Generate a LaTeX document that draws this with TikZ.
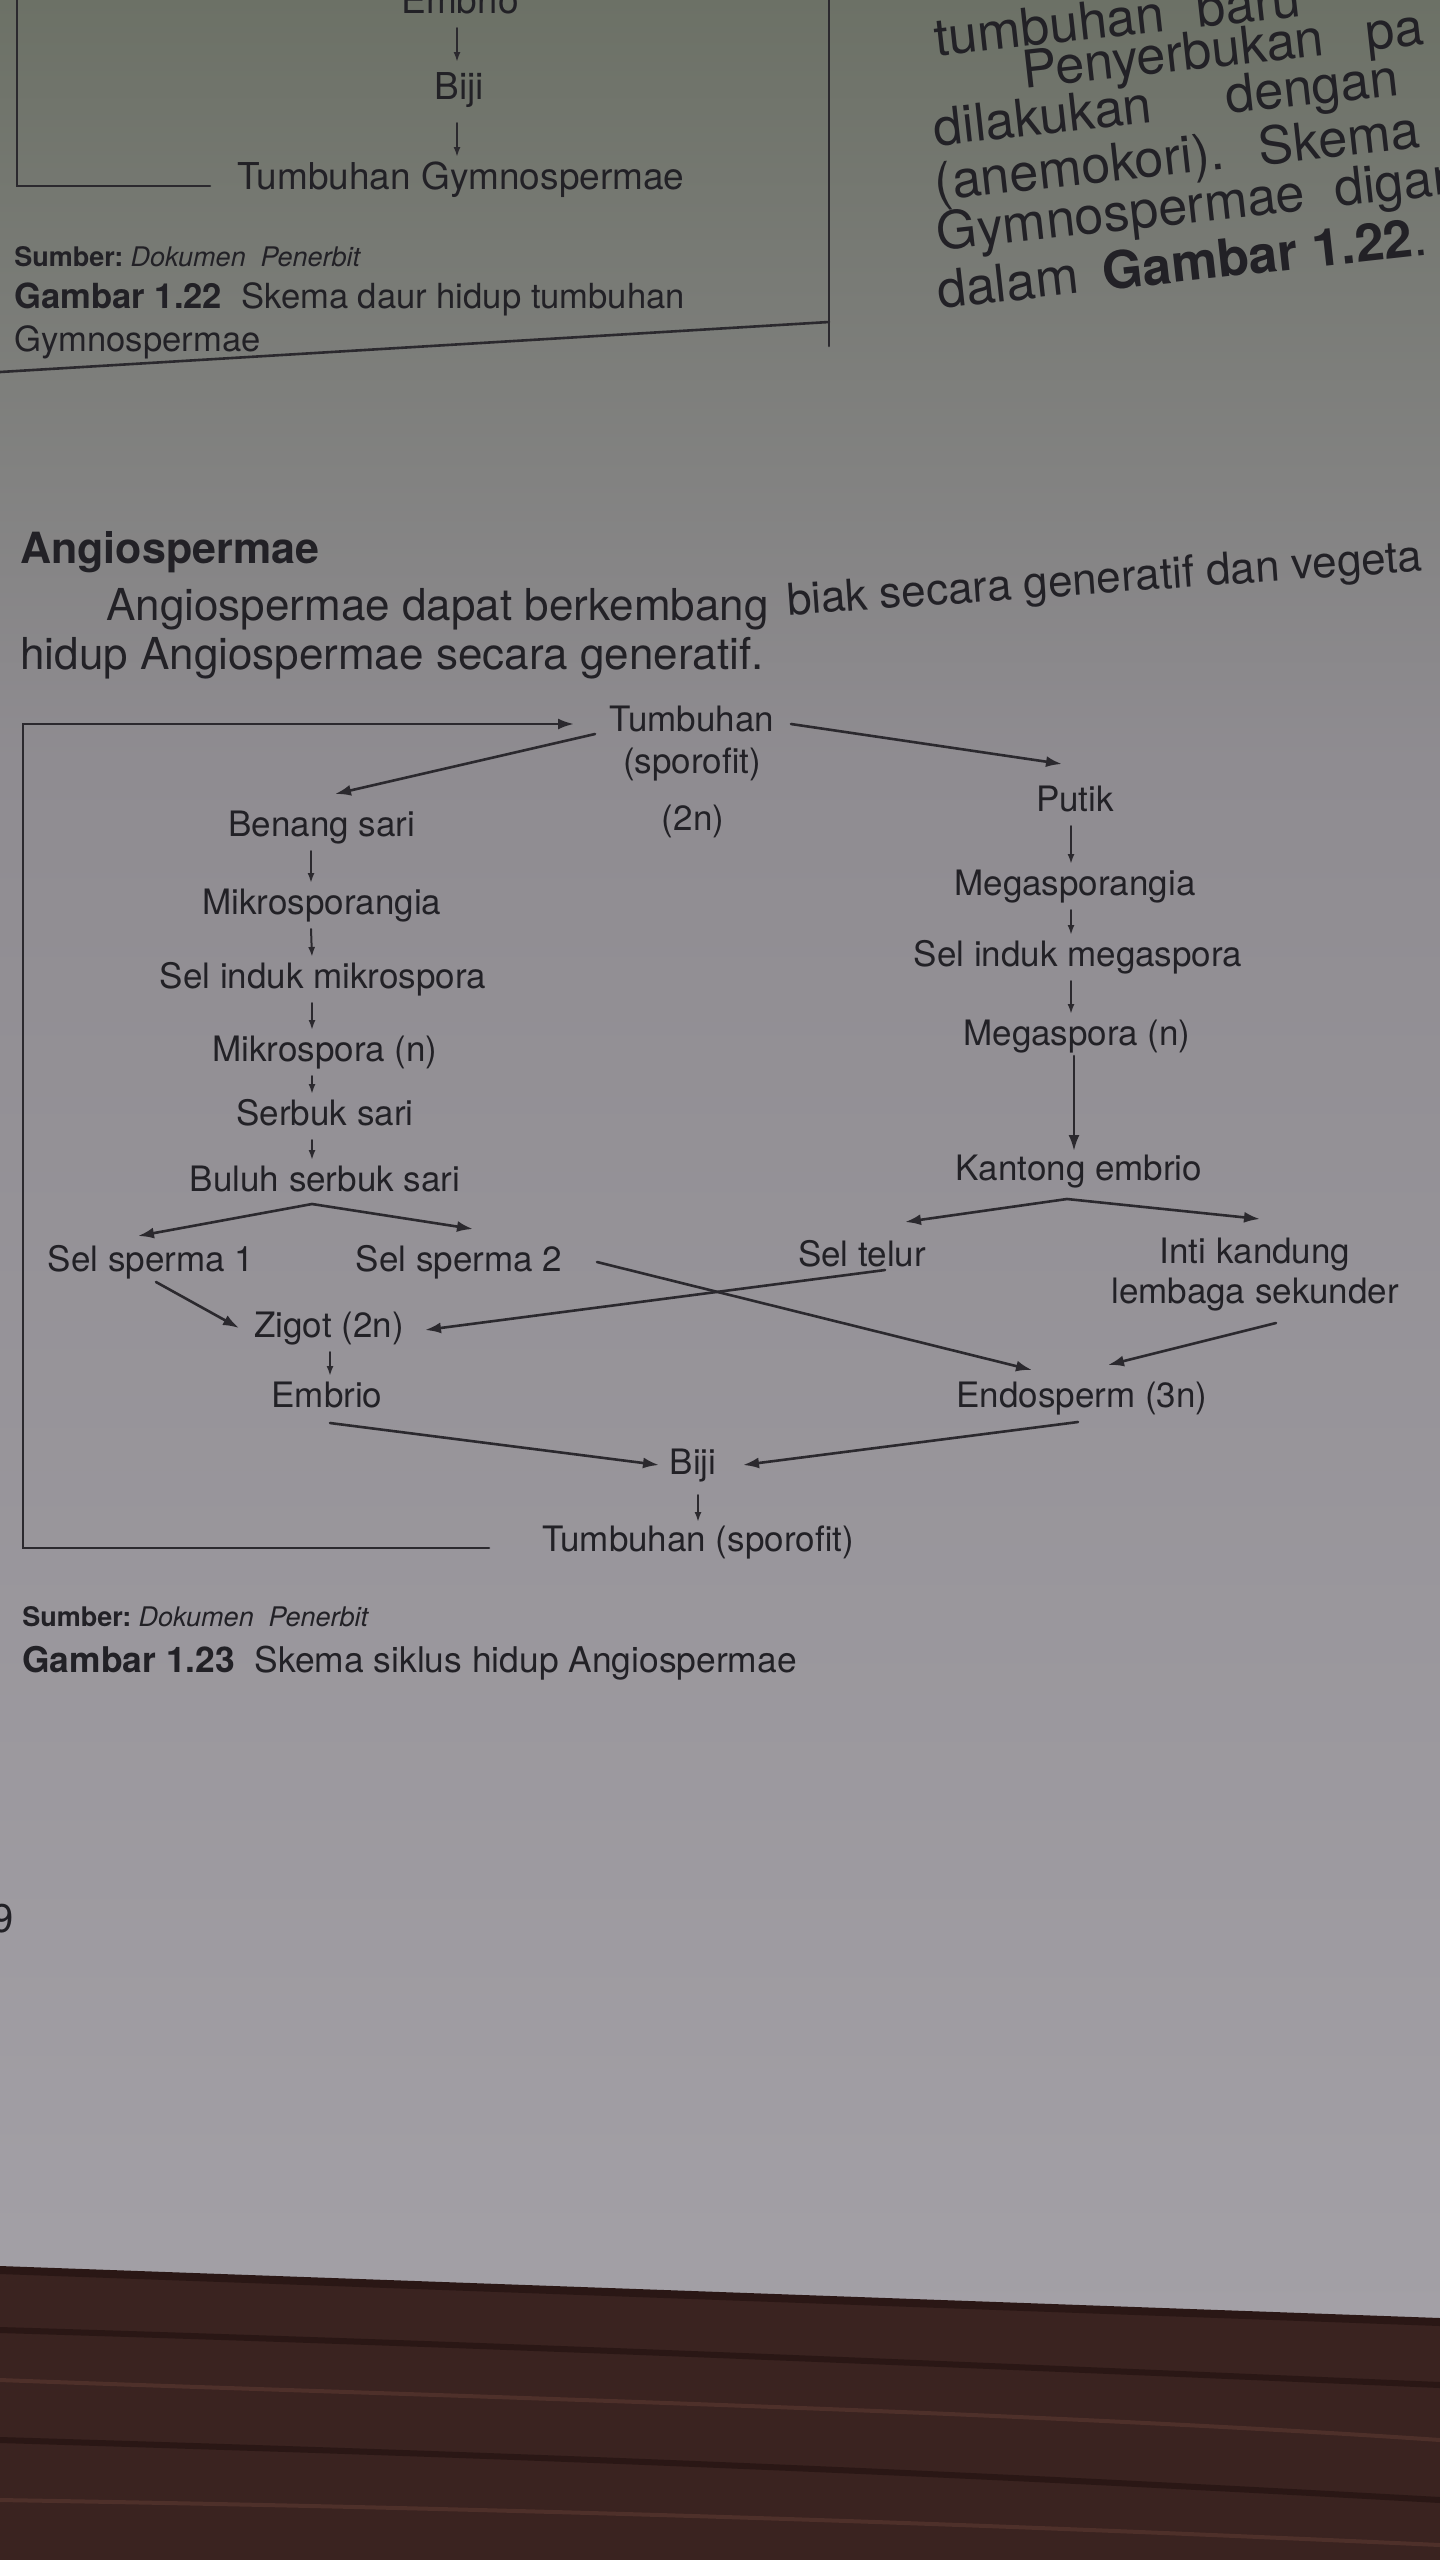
\documentclass[tikz,border=0pt]{standalone}
\usepackage{fontspec}
\setmainfont{TeX Gyre Heros}
\usetikzlibrary{arrows.meta,calc}
\definecolor{ink}{HTML}{222126}
\definecolor{lineink}{HTML}{2B292E}
\definecolor{paperA}{HTML}{6C7166}
\definecolor{paperB}{HTML}{8F8C91}
\definecolor{paperC}{HTML}{A3A0A6}
\definecolor{woodA}{HTML}{3A2320}
\definecolor{woodB}{HTML}{2A1715}
\definecolor{woodC}{HTML}{4E302A}
\begin{document}
\begin{tikzpicture}[x=0.5pt,y=-0.5pt,line cap=round,
  lbl/.style={font=\fontsize{17.5}{20}\selectfont, text=ink, inner sep=0pt, text height=12.5pt, text depth=3.5pt},
  glbl/.style={lbl, font=\fontsize{18.5}{22}\selectfont},
  ml/.style={font=\fontsize{17.5}{20}\selectfont, text=ink, inner sep=0pt, align=center},
  arr/.style={draw=lineink, line width=1.3pt, -{Latex[length=8pt,width=5.5pt]}},
  sarr/.style={draw=lineink, line width=1pt, -{Latex[length=5pt,width=3.5pt]}},
  plain/.style={draw=lineink, line width=1.3pt},
  body/.style={font=\fontsize{22}{26}\selectfont, text=ink, inner sep=0pt, anchor=west},
  rbody/.style={font=\fontsize{26}{30}\selectfont, text=ink, inner sep=0pt, anchor=west, rotate=6.3},
  capt/.style={text=ink, inner sep=0pt, anchor=west, align=left}]
\useasboundingbox (0,0) rectangle (1440,2560);
\clip (0,0) rectangle (1440,2560);
% paper and wood
\shade[top color=paperA, bottom color=paperB] (0,0) rectangle (1440,760);
\shade[top color=paperB, bottom color=paperC] (0,760) rectangle (1440,2330);
\fill[woodA] (0,2268) -- (1440,2320) -- (1440,2560) -- (0,2560) -- cycle;
\draw[woodB, line width=4pt] (0,2270) -- (1440,2322);
\draw[woodB, line width=3pt] (0,2330) .. controls (500,2345) and (900,2362) .. (1440,2385);
\draw[woodC, line width=2pt] (0,2380) .. controls (400,2395) and (1000,2410) .. (1440,2440);
\draw[woodB, line width=3pt] (0,2440) .. controls (500,2455) and (900,2470) .. (1440,2500);
\draw[woodC, line width=2pt] (0,2500) .. controls (600,2510) and (1000,2525) .. (1440,2545);

% ---------- Gymnospermae part (top) ----------
\node[glbl] (gembrio) at (460,4) {Embrio};
\node[glbl] (gbiji) at (459,90) {Biji};
\node[glbl] (gtum) at (461,180) {Tumbuhan Gymnospermae};
\draw[sarr] ($(gembrio)+(-3,24)$) -- ($(gbiji)+(-2,-28)$);
\draw[sarr] ($(gbiji)+(-2,33)$) -- ($(gtum)+(-4,-23)$);
\coordinate (gtl) at (17,0);
\draw[plain] (gtl) |- ($(gtum)+(-251,6)$);
\coordinate (gtr) at (829,0);
\coordinate (gbr) at (829,346);
\draw[plain] (gtr) -- (gbr);
\coordinate (rl) at (0,372);
\coordinate (rr) at (829,322);
\draw[plain] (rl) -- (rr);
\node[capt, font=\fontsize{13.5}{16}\selectfont] (src1) at (14,257) {\textbf{Sumber:}\ \textit{Dokumen\ \ Penerbit}};
\node[capt, font=\fontsize{17.3}{21.5}\selectfont] (cap1) at (14,321) {\textbf{Gambar 1.22}\ \ Skema daur hidup tumbuhan\\Gymnospermae};

% right column body text
\node[rbody] (r1) at (934,38) {tumbuhan\hspace{9pt} baru};
\node[rbody] (r2) at (1023,75) {Penyerbukan\hspace{14pt} pa};
\node[rbody] (r3) at (934,133) {dilakukan\hspace{30pt} dengan};
\node[rbody] (r4) at (935,187) {(anemokori).\hspace{8pt} Skema};
\node[rbody] (r5) at (937,237) {Gymnospermae\hspace{8pt} digam};
\node[rbody] (r6) at (937,290) {dalam\hspace{5pt} \textbf{Gambar 1.22}.};

% ---------- Angiospermae text ----------
\node[body, font=\bfseries\fontsize{21.5}{26}\selectfont] (hd) at (20,552) {Angiospermae};
\node[body] (p1a) at (106,609) {Angiospermae dapat berkembang};
\node[body, rotate=4] (p1b) at (787,604) {biak secara generatif dan vegeta};
\node[body] (p2) at (20,658) {hidup Angiospermae secara generatif.};

% ---------- diagram ----------
\node[lbl] (tum) at (692,722) {Tumbuhan};
\node[lbl] (spo) at (692,764) {(sporofit)};
\node[lbl] (twon) at (693,821) {(2n)};
\node[lbl] (bs) at (322,827) {Benang sari};
\node[lbl] (mk) at (322,905) {Mikrosporangia};
\node[lbl] (si) at (323,979) {Sel induk mikrospora};
\node[lbl] (mi) at (325,1052) {Mikrospora (n)};
\node[lbl] (sb) at (325,1116) {Serbuk sari};
\node[lbl] (bu) at (325,1182) {Buluh serbuk sari};
\node[lbl] (pu) at (1075,802) {Putik};
\node[lbl] (mg) at (1075,886) {Megasporangia};
\node[lbl] (sm) at (1078,957) {Sel induk megaspora};
\node[lbl] (ms) at (1077,1036) {Megaspora (n)};
\node[lbl] (ke) at (1079,1171) {Kantong embrio};
\node[lbl] (ss1) at (151,1262) {Sel sperma 1};
\node[lbl] (ss2) at (459,1262) {Sel sperma 2};
\node[lbl] (st) at (862,1257) {Sel telur};
\node[ml] (ik) at (1255,1275) {Inti kandung\\lembaga sekunder};
\node[lbl] (zg) at (329,1328) {Zigot (2n)};
\node[lbl] (em) at (327,1398) {Embrio};
\node[lbl] (en) at (1082,1398) {Endosperm (3n)};
\node[lbl] (bj) at (693,1465) {Biji};
\node[lbl] (ts) at (698,1542) {Tumbuhan (sporofit)};

% frame back to the plant
\coordinate (fr) at (23,724);
\draw[arr] ($(ts)+(-209,6)$) -| (fr) -- ($(tum)+(-118,2)$);
% split from Tumbuhan
\draw[arr] ($(tum)+(-97,12)$) -- ($(bs)+(13,-33)$);
\draw[arr] ($(tum)+(99,2)$) -- ($(pu)+(-13,-38)$);
% left chain
\draw[sarr] ($(bs)+(-11,24)$) -- ($(mk)+(-11,-22)$);
\draw[sarr] ($(mk)+(-11,24)$) -- ($(si)+(-11,-22)$);
\draw[sarr] ($(si)+(-11,24)$) -- ($(mi)+(-13,-22)$);
\draw[sarr] ($(mi)+(-13,24)$) -- ($(sb)+(-13,-22)$);
\draw[sarr] ($(sb)+(-13,24)$) -- ($(bu)+(-13,-22)$);
% right chain
\draw[sarr] ($(pu)+(-4,24)$) -- ($(mg)+(-4,-22)$);
\draw[sarr] ($(mg)+(-4,24)$) -- ($(sm)+(-7,-22)$);
\draw[sarr] ($(sm)+(-7,24)$) -- ($(ms)+(-6,-22)$);
\draw[arr] ($(ms)+(-3,20)$) -- ($(ke)+(-5,-20)$);
% forks
\coordinate (fl) at ($(bu)+(-13,22)$);
\draw[arr] (fl) -- ($(ss1)+(-13,-26)$);
\draw[arr] (fl) -- ($(ss2)+(14,-33)$);
\coordinate (fk) at ($(ke)+(-12,28)$);
\draw[arr] (fk) -- ($(st)+(43,-35)$);
\draw[arr] (fk) -- ($(ik)+(5,-56)$);
% fertilisation
\draw[arr] ($(ss1)+(5,20)$) -- ($(zg)+(-90,0)$);
\draw[arr] ($(st)+(23,13)$) -- ($(zg)+(96,2)$);
\draw[arr] ($(ss2)+(138,0)$) -- ($(en)+(-50,-28)$);
\draw[arr] ($(ik)+(21,48)$) -- ($(en)+(26,-33)$);
\draw[sarr] ($(zg)+(1,24)$) -- ($(em)+(3,-22)$);
\draw[arr] ($(em)+(3,25)$) -- ($(bj)+(-34,0)$);
\draw[arr] ($(en)+(-4,24)$) -- ($(bj)+(50,0)$);
\draw[sarr] ($(bj)+(5,30)$) -- ($(ts)+(0,-20)$);

% captions
\node[capt, font=\fontsize{13.5}{16}\selectfont] (src2) at (22,1617) {\textbf{Sumber:}\ \textit{Dokumen\ \ Penerbit}};
\node[capt, font=\fontsize{17.7}{21}\selectfont] (cap2) at (22,1663) {\textbf{Gambar 1.23}\ \ Skema siklus hidup Angiospermae};
\node[font=\fontsize{20}{24}\selectfont, text=ink, inner sep=0pt] (pg) at (3,1919) {9};
\end{tikzpicture}
\end{document}
